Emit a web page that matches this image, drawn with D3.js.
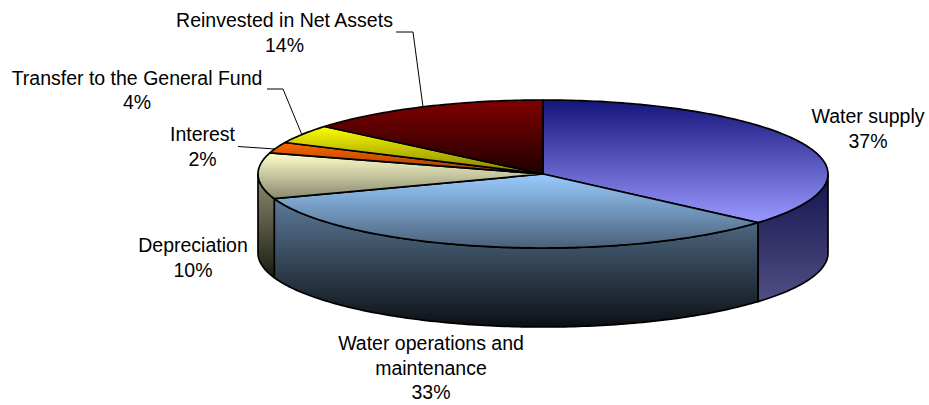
<!DOCTYPE html>
<html><head><meta charset="utf-8">
<script src="https://cdn.jsdelivr.net/npm/d3@7"></script>
<style>html,body{margin:0;background:#fff}text{font-family:"Liberation Sans",Arial,sans-serif;font-size:19.5px;fill:#000}</style>
</head><body><svg id="c" width="929" height="405"></svg>
<script>
const categories=["Water supply","Water operations and maintenance","Depreciation","Interest","Transfer to the General Fund","Reinvested in Net Assets"];
const values=[36.4,33.2,10,2.4,4.1,13.9];
const labelLines=[["Water supply","37%"],["Water operations and","maintenance","33%"],["Depreciation","10%"],["Interest","2%"],["Transfer to the General Fund","4%"],["Reinvested in Net Assets","14%"]];
const labelX=[868,431,193,202.5,137,284.5];
const labelY=[123,350,252,141,84.5,27];
const topStops=[["#14147a","#9999ff"],["#99ccff","#4a6078"],["#ffffcc","#8a8a70"],["#ff6600","#993d00"],["#ffff00","#808000"],["#800000","#200000"]];
const sideStops=[["#14144c","#524d85"],["#5c7a99","#0c1014"],["#8f8f72","#1c1c12"]];
const leaders=[[],[],[],[[238,146.5],[275,149]],[[267,89],[283,89],[302,135]],[[396,32],[413,32],[423,107]]];

const svg=d3.select("#c"),defs=svg.append("defs");
const x=d3.scaleLinear().domain([-1,1]).range([258,828]);
const y=d3.scaleLinear().domain([-1,1]).range([100,248]);
const depth=79;
const arcs=d3.pie().sort(null)(values);
const pt=(a,d=0)=>[x(Math.sin(a)),y(-Math.cos(a))+d];
const samples=(a0,a1)=>{const n=Math.max(2,Math.ceil((a1-a0)*60));return d3.range(n+1).map(i=>a0+(a1-a0)*i/n)};
const line=d3.line();
function grad(id,stops,y0,y1){
  const g=defs.append("linearGradient").attr("id",id).attr("gradientUnits","userSpaceOnUse").attr("x1",0).attr("x2",0).attr("y1",y0).attr("y2",y1);
  g.append("stop").attr("offset",0).attr("stop-color",stops[0]);
  g.append("stop").attr("offset",1).attr("stop-color",stops[1]);
}
const lo=Math.PI/2,hi=3*Math.PI/2;
arcs.forEach((d,i)=>{
  const a0=Math.max(d.startAngle,lo),a1=Math.min(d.endAngle,hi);
  if(a1<=a0)return;
  const top=samples(a0,a1).map(a=>pt(a)),bot=samples(a0,a1).reverse().map(a=>pt(a,depth));
  const ys=top.concat(bot).map(p=>p[1]);
  grad("s"+i,sideStops[i],d3.min(ys),d3.max(ys));
  svg.append("path").attr("d",line(top.concat(bot))+"Z").attr("fill",`url(#s${i})`).attr("stroke","#000").attr("stroke-width",1.7).attr("stroke-linejoin","round");
});
arcs.forEach((d,i)=>{
  const rim=samples(d.startAngle,d.endAngle).map(a=>pt(a));
  const pts=[[x(0),y(0)],...rim];
  const ys=pts.map(p=>p[1]);
  grad("t"+i,topStops[i],d3.min(ys),d3.max(ys));
  svg.append("path").attr("d",line(pts)+"Z").attr("fill",`url(#t${i})`).attr("stroke","#000").attr("stroke-width",1.7).attr("stroke-linejoin","round");
});
leaders.forEach(l=>{if(l.length)svg.append("path").attr("d",line(l)).attr("fill","none").attr("stroke","#000").attr("stroke-width",1);});
labelLines.forEach((ls,i)=>{
  const t=svg.append("text").attr("text-anchor","middle");
  ls.forEach((s,j)=>t.append("tspan").attr("x",labelX[i]).attr("y",labelY[i]+j*24.5).text(s));
});
</script></body></html>
